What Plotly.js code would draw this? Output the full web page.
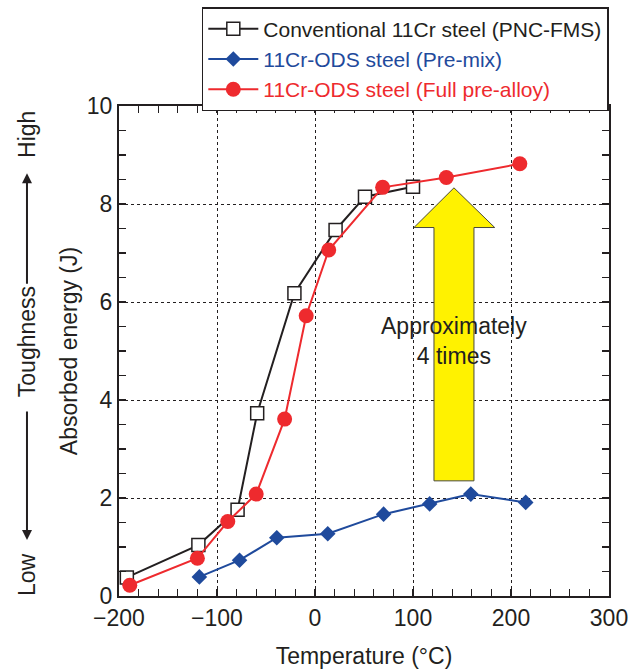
<!DOCTYPE html>
<html>
<head>
<meta charset="utf-8">
<script src="https://cdn.plot.ly/plotly-3.0.1.min.js"></script>
<style>html,body{margin:0;padding:0;background:#fff;}#chart{width:641px;height:672px;}</style>
</head>
<body>
<div id="chart"></div>
<script>
// Conventional 11Cr steel (PNC-FMS)
const convX = [-192, -119, -79, -59, -21, 21, 51, 100];
const convY = [0.38, 1.04, 1.76, 3.73, 6.18, 7.47, 8.15, 8.35];
// 11Cr-ODS steel (Pre-mix)
const premixX = [-118, -77, -39, 13, 70, 117, 159, 215];
const premixY = [0.39, 0.73, 1.19, 1.27, 1.67, 1.88, 2.08, 1.91];
// 11Cr-ODS steel (Full pre-alloy)
const fullX = [-189, -120, -89, -60, -31, -9, 14, 69, 134, 209];
const fullY = [0.22, 0.77, 1.52, 2.08, 3.61, 5.72, 7.06, 8.34, 8.54, 8.82];

const names = ["Conventional 11Cr steel (PNC-FMS)", "11Cr-ODS steel (Pre-mix)", "11Cr-ODS steel (Full pre-alloy)"];
const xTicks = [-200, -100, 0, 100, 200, 300];
const xTickText = ["\u2212200", "\u2212100", "0", "100", "200", "300"];
const yTicks = [0, 2, 4, 6, 8, 10];

const TXT = "#231f20";
const BLUE = "#1f4a9c";
const RED = "#ee2a2e";
const FONT = "Liberation Sans, Arial, Helvetica, sans-serif";
const FS = 23;

const traces = [
  {x: convX, y: convY, name: names[0], mode: "lines+markers", type: "scatter",
   line: {color: TXT, width: 2},
   marker: {symbol: "square", size: 13, color: "#ffffff", line: {color: TXT, width: 1.5}}},
  {x: premixX, y: premixY, name: '<span style="color:' + BLUE + '">' + names[1] + '</span>', mode: "lines+markers", type: "scatter",
   line: {color: BLUE, width: 2},
   marker: {symbol: "diamond", size: 12, color: BLUE, line: {width: 0}}},
  {x: fullX, y: fullY, name: '<span style="color:' + RED + '">' + names[2] + '</span>', mode: "lines+markers", type: "scatter",
   line: {color: RED, width: 2},
   marker: {symbol: "circle", size: 15, color: RED, line: {width: 0}}}
];

// arrow geometry (data units)
const arrow = {x0: 121.4, x1: 162.2, yb: 2.35, ys: 7.52, hx0: 101, hx1: 183.4, tipx: 141.8, tipy: 8.33};
const path = `M ${arrow.x0},${arrow.yb} L ${arrow.x1},${arrow.yb} L ${arrow.x1},${arrow.ys} L ${arrow.hx1},${arrow.ys} L ${arrow.tipx},${arrow.tipy} L ${arrow.hx0},${arrow.ys} L ${arrow.x0},${arrow.ys} Z`;

const axisCommon = {
  showline: true, linecolor: TXT, linewidth: 2, mirror: "ticks",
  ticks: "inside", ticklen: 7, tickwidth: 1.2, tickcolor: TXT,
  showgrid: true, gridcolor: TXT, griddash: "dot", gridwidth: 1,
  zeroline: false,
  tickfont: {family: FONT, size: FS, color: TXT}
};

const sideText = (txt, y) => ({x: -0.1878, y: y, xref: "paper", yref: "paper", text: txt, textangle: -90,
  showarrow: false, xanchor: "center", yanchor: "middle", font: {family: FONT, size: FS, color: TXT}});

const layout = {
  width: 641, height: 672,
  margin: {l: 119, r: 32, t: 106, b: 76, autoexpand: false},
  paper_bgcolor: "#ffffff", plot_bgcolor: "#ffffff",
  font: {family: FONT, color: TXT, size: FS},
  showlegend: true,
  legend: {x: 0.169, y: 1.202, xanchor: "left", yanchor: "top",
           bordercolor: TXT, borderwidth: 1.5, bgcolor: "#ffffff",
           font: {family: FONT, size: 21, color: TXT}, tracegroupgap: 0, itemwidth: 50},
  xaxis: Object.assign({}, axisCommon, {
    range: [-200, 300], tickvals: xTicks, ticktext: xTickText,
    minor: {dtick: 20, ticks: "inside", ticklen: 7, tickcolor: TXT, tickwidth: 1.2, showgrid: false},
    title: {text: "Temperature (\u00b0C)", font: {family: FONT, size: FS, color: TXT}, standoff: 18}
  }),
  yaxis: Object.assign({}, axisCommon, {
    range: [0, 10], tickvals: yTicks,
    minor: {dtick: 0.5, ticks: "inside", ticklen: 7, tickcolor: TXT, tickwidth: 1.2, showgrid: false},
    title: {text: "Absorbed energy (J)", font: {family: FONT, size: FS, color: TXT}, standoff: 3}
  }),
  shapes: [
    {type: "path", xref: "x", yref: "y", path: path, fillcolor: "#fff200",
     line: {color: "#4a4a3a", width: 1}, layer: "between"}
  ],
  annotations: [
    {x: 142, y: 5.2, xref: "x", yref: "y", text: "Approximately<br>4 times", showarrow: false,
     xanchor: "center", yanchor: "middle", font: {family: FONT, size: FS, color: TXT}, align: "center"},
    sideText("High", 0.943),
    sideText("Toughness", 0.520),
    sideText("Low", 0.0449),
    {x: -0.1878, y: 0.863, xref: "paper", yref: "paper", text: "", showarrow: true,
     ax: 0, ay: 112, arrowhead: 2, arrowsize: 1, arrowwidth: 2, arrowcolor: TXT},
    {x: -0.1878, y: 0.1143, xref: "paper", yref: "paper", text: "", showarrow: true,
     ax: 0, ay: -130, arrowhead: 2, arrowsize: 1, arrowwidth: 2, arrowcolor: TXT}
  ]
};

Plotly.newPlot("chart", traces, layout, {displayModeBar: false, staticPlot: true});
</script>
</body>
</html>
